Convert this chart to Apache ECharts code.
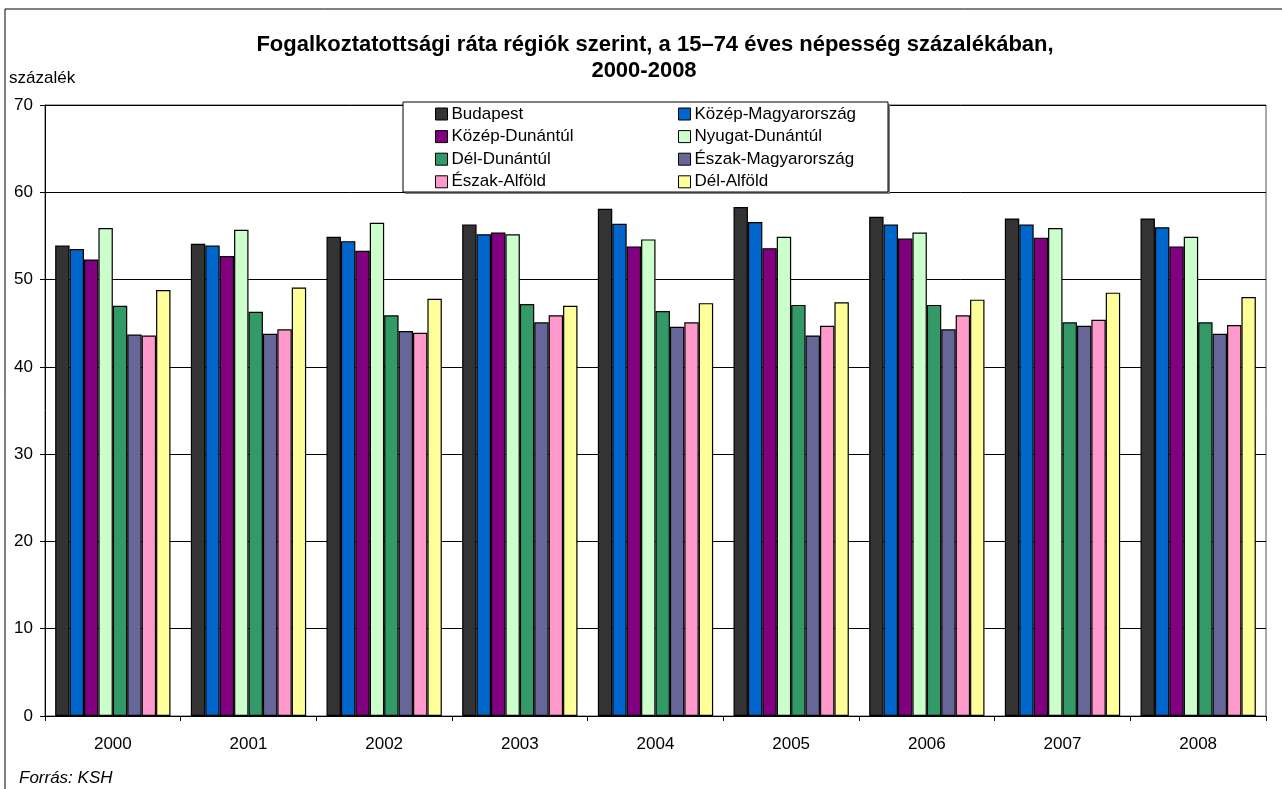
<!DOCTYPE html>
<html>
<head>
<meta charset="utf-8">
<title>Fogalkoztatottsági ráta</title>
<script src="https://cdn.jsdelivr.net/npm/echarts@6/dist/echarts.min.js"></script>
<style>
  html, body { margin: 0; padding: 0; background: #fff; }
  #chart { width: 1282px; height: 789px; }
</style>
</head>
<body>
<div id="chart"></div>
<script>
  // évek
  const years = ['2000', '2001', '2002', '2003', '2004', '2005', '2006', '2007', '2008']
  const regions = ['Budapest', 'Közép-Magyarország', 'Közép-Dunántúl', 'Nyugat-Dunántúl',
    'Dél-Dunántúl', 'Észak-Magyarország', 'Észak-Alföld', 'Dél-Alföld']
  const colors = ['#333333', '#0066CC', '#800080', '#CCFFCC', '#339966', '#666699', '#FF99CC', '#FFFF99']

  const budapest = [53.9, 54.1, 54.9, 56.3, 58.1, 58.3, 57.2, 57.0, 57.0]
  const kozepMagyarorszag = [53.5, 53.9, 54.4, 55.2, 56.4, 56.6, 56.3, 56.3, 56.0]
  const kozepDunantul = [52.3, 52.7, 53.3, 55.4, 53.8, 53.6, 54.7, 54.8, 53.8]
  const nyugatDunantul = [55.9, 55.7, 56.5, 55.2, 54.6, 54.9, 55.4, 55.9, 54.9]
  const delDunantul = [47.0, 46.3, 45.9, 47.2, 46.4, 47.1, 47.1, 45.1, 45.1]
  const eszakMagyarorszag = [43.7, 43.8, 44.1, 45.1, 44.6, 43.6, 44.3, 44.7, 43.8]
  const eszakAlfold = [43.6, 44.3, 43.9, 45.9, 45.1, 44.7, 45.9, 45.4, 44.8]
  const delAlfold = [48.8, 49.1, 47.8, 47.0, 47.3, 47.4, 47.7, 48.5, 48.0]

  const values = [budapest, kozepMagyarorszag, kozepDunantul, nyugatDunantul,
    delDunantul, eszakMagyarorszag, eszakAlfold, delAlfold]

  const font = 'Arial, "Liberation Sans", sans-serif'

  let myChart = echarts.init(document.getElementById('chart'))

  let legendBase = {
    orient: 'vertical',
    top: 104,
    padding: 0,
    itemWidth: 12,
    itemHeight: 12,
    itemGap: 2.6,
    icon: 'rect',
    itemStyle: { borderColor: '#000', borderWidth: 1 },
    textStyle: { fontFamily: font, fontSize: 17, color: '#000', lineHeight: 20, padding: [0, 0, 0, -1] },
    selectedMode: false,
    z: 6
  }

  let option = {
    animation: false,
    backgroundColor: '#fff',
    textStyle: { fontFamily: font },
    graphic: [
      // külső keret
      {
        type: 'rect',
        shape: { x: 5, y: 9, width: 1300, height: 800 },
        style: { fill: 'none', stroke: '#000', lineWidth: 1 },
        z: 0
      },
      // jelmagyarázat doboz árnyékkal
      {
        type: 'rect',
        shape: { x: 405, y: 104, width: 485, height: 90 },
        style: { fill: '#808080' },
        z: 3
      },
      {
        type: 'rect',
        shape: { x: 403, y: 102, width: 485, height: 90 },
        style: { fill: '#fff', stroke: '#000', lineWidth: 1 },
        z: 4
      },
      {
        type: 'text',
        x: 655,
        y: 45,
        style: {
          text: 'Fogalkoztatottsági ráta régiók szerint, a 15–74 éves népesség százalékában,',
          font: 'bold 22px ' + font,
          fill: '#000',
          align: 'center',
          verticalAlign: 'middle'
        }
      },
      {
        type: 'text',
        x: 644,
        y: 71,
        style: {
          text: '2000-2008',
          font: 'bold 22px ' + font,
          fill: '#000',
          align: 'center',
          verticalAlign: 'middle'
        }
      },
      {
        type: 'text',
        x: 9,
        y: 78,
        style: { text: 'százalék', font: '17px ' + font, fill: '#000', verticalAlign: 'middle' }
      },
      {
        type: 'text',
        x: 19,
        y: 778,
        style: { text: 'Forrás: KSH', font: 'italic 17px ' + font, fill: '#000', verticalAlign: 'middle' }
      }
    ],
    legend: [
      Object.assign({}, legendBase, {
        left: 435,
        data: [regions[0], regions[2], regions[4], regions[6]]
      }),
      Object.assign({}, legendBase, {
        left: 678,
        data: [regions[1], regions[3], regions[5], regions[7]]
      })
    ],
    grid: {
      left: 45,
      right: 16,
      top: 105,
      bottom: 73,
      show: true,
      borderColor: '#555',
      borderWidth: 1,
      containLabel: false
    },
    xAxis: {
      type: 'category',
      data: years,
      axisLine: { lineStyle: { color: '#000', width: 1 } },
      axisTick: { show: true, length: 5, lineStyle: { color: '#000' } },
      axisLabel: { color: '#000', fontSize: 17, fontFamily: font, margin: 20 }
    },
    yAxis: {
      type: 'value',
      min: 0,
      max: 70,
      interval: 10,
      axisLine: { show: true, lineStyle: { color: '#000', width: 1 } },
      axisTick: { show: true, length: 5, lineStyle: { color: '#000' } },
      axisLabel: { color: '#000', fontSize: 17, fontFamily: font, margin: 12 },
      splitLine: { lineStyle: { color: '#000', width: 1 } }
    },
    series: regions.map(function (name, i) {
      return {
        name: name,
        type: 'bar',
        barGap: '0%',
        barCategoryGap: '15%',
        itemStyle: { color: colors[i], borderColor: '#000', borderWidth: 1.2 },
        data: values[i]
      }
    })
  }
  myChart.setOption(option)
</script>
</body>
</html>
